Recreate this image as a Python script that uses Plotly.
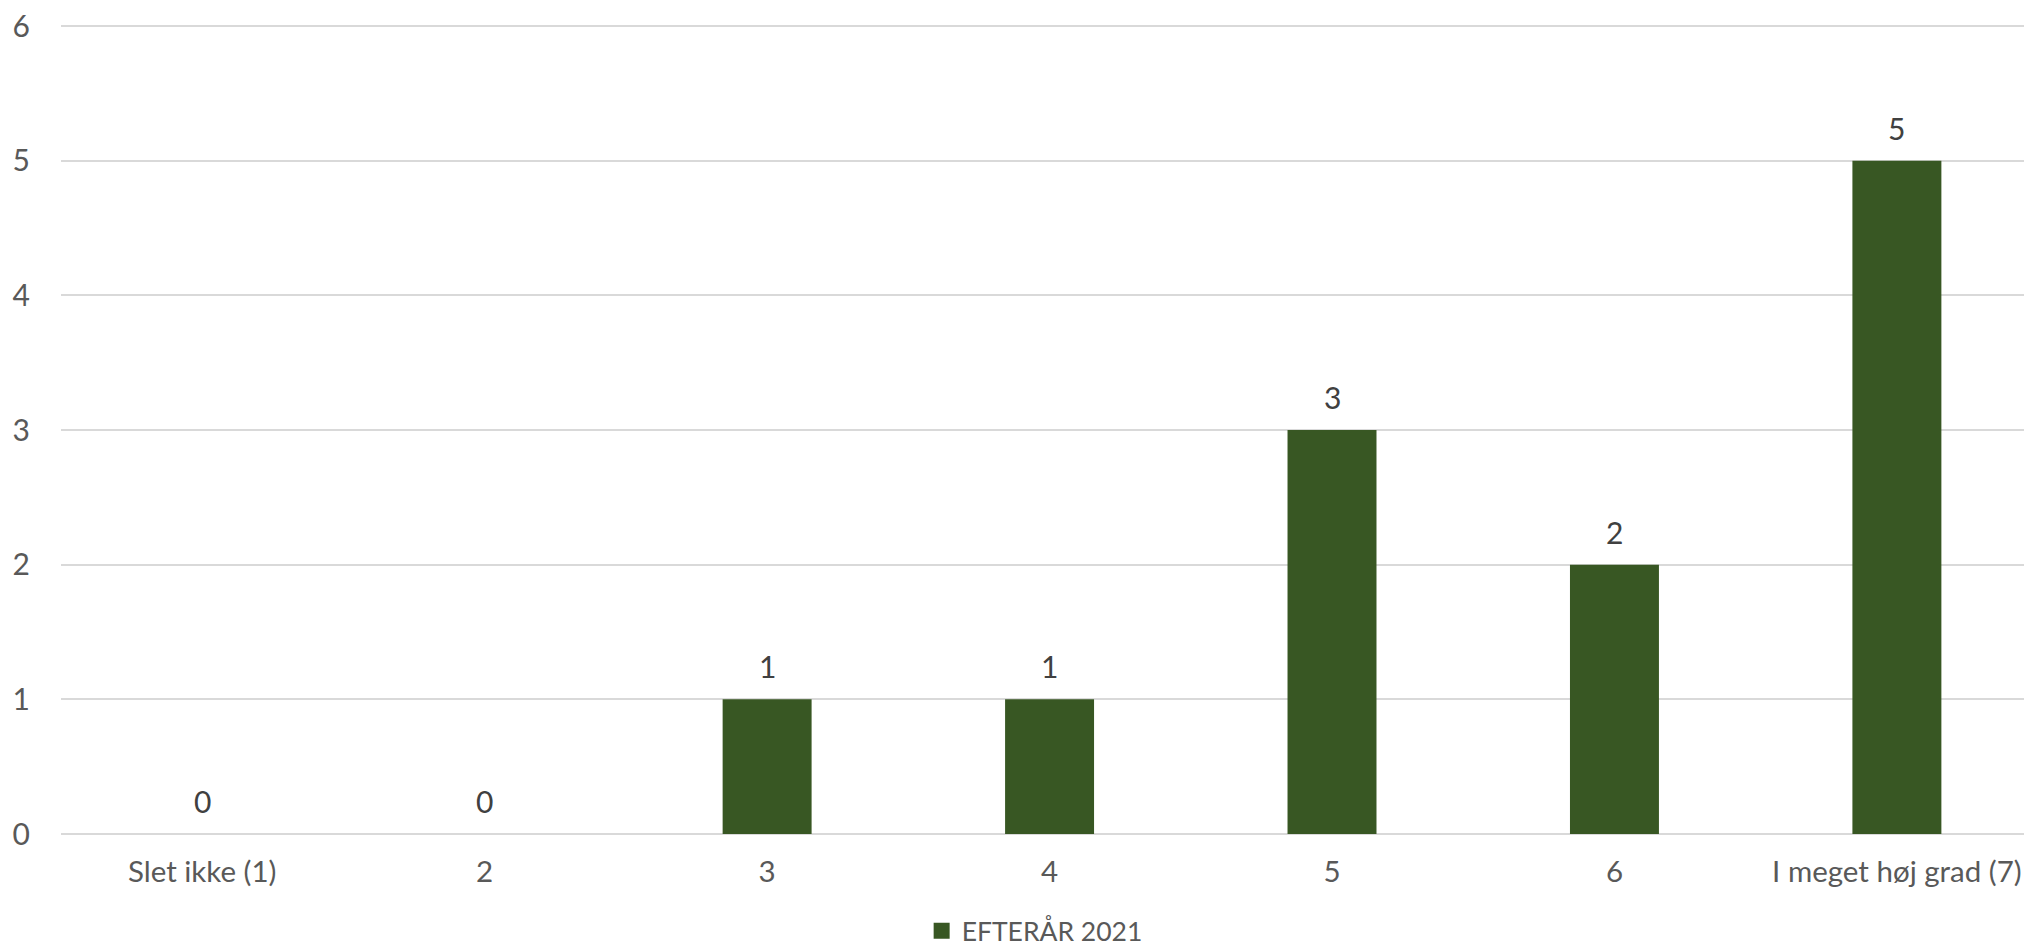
import plotly.graph_objects as go

categories = ["Slet ikke (1)", "2", "3", "4", "5", "6", "I meget høj grad (7)"]
values = [0, 0, 1, 1, 3, 2, 5]
series_name = "EFTERÅR 2021"
y_ticks = [0, 1, 2, 3, 4, 5, 6]

FONT = "Lato, 'Open Sans', sans-serif"
BAR_COLOR = "#385723"
fig = go.Figure()
fig.add_trace(go.Bar(
    x=categories, y=values, name=series_name,
    marker=dict(color=BAR_COLOR, line=dict(width=0)),
    width=0.315, showlegend=False,
))
# legend entry with a larger square swatch
fig.add_trace(go.Scatter(
    x=[None], y=[None], mode="markers", name=series_name,
    marker=dict(symbol="square", size=18, color=BAR_COLOR), showlegend=True,
))
for i, v in enumerate(values):
    fig.add_annotation(x=i, y=v, xref="x", yref="y", text=str(v), showarrow=False,
                       yanchor="bottom", yshift=13,
                       font=dict(family=FONT, size=30, color="#404040"))

fig.update_layout(
    width=2024, height=951,
    margin=dict(l=61, r=0, t=22, b=117),
    plot_bgcolor="white", paper_bgcolor="white",
    font=dict(family=FONT, size=30, color="#595959"),
    showlegend=True,
    legend=dict(orientation="h", x=0.496, xanchor="center",
                yref="container", y=0.021, yanchor="middle",
                font=dict(family=FONT, size=26.5, color="#595959"), itemwidth=30,
                itemsizing="trace"),
    xaxis=dict(type="category", range=[-0.5, 6.45], showgrid=False, showline=False, ticks="",
               automargin=False, ticklabelstandoff=17,
               tickfont=dict(size=29.5, color="#595959")),
    yaxis=dict(range=[0, 6.03], tickvals=y_ticks, showgrid=True, gridcolor="#d9d9d9", gridwidth=1.5,
               zeroline=True, zerolinecolor="#d9d9d9", zerolinewidth=1.5, automargin=False,
               ticklabelstandoff=30, tickfont=dict(size=30, color="#595959")),
)
fig.write_html("out.html", config={"displayModeBar": False},
               post_script="document.body.style.margin='0';document.body.style.overflow='hidden';")
